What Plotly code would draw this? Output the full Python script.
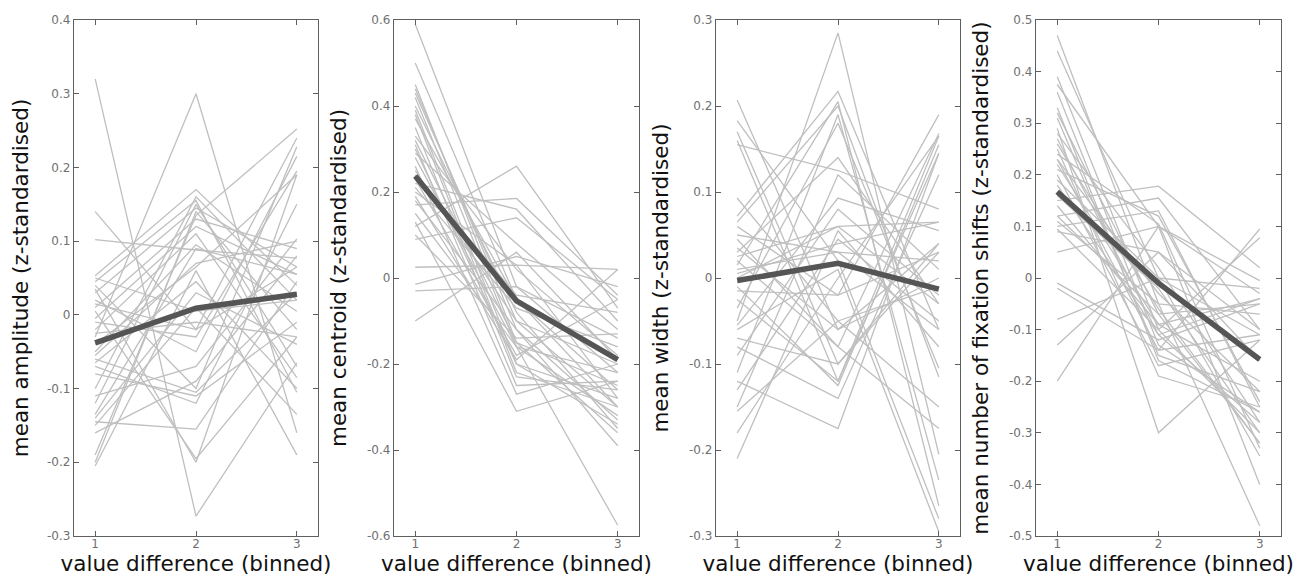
import plotly.graph_objects as go

x_bins = [1, 2, 3]
x_ticktext = ["1", "2", "3"]

# Panel 1: mean amplitude (per-subject values at bins 1,2,3)
amp_b1 = [0.32, -0.03, 0.14, 0.102, 0.053, 0.045, 0.04, 0.03, 0.02, 0.01, 0.005, -0.005, -0.01, -0.02,
          -0.04, -0.05, -0.06, -0.065, -0.07, -0.10, -0.11, -0.14, -0.145, -0.15, -0.16, -0.19, -0.20,
          -0.205, 0.035, -0.08, 0.015, -0.12, -0.025, 0.05, -0.135, -0.055]
amp_b2 = [-0.273, 0.30, -0.02, 0.088, 0.17, 0.155, -0.10, 0.145, -0.05, 0.13, -0.195, 0.12, -0.03, 0.11,
          0.065, 0.095, -0.105, 0.045, -0.12, 0.16, -0.07, 0.03, -0.155, 0.01, -0.09, 0.135, 0.14,
          0.06, -0.20, -0.11, -0.02, 0.15, -0.01, 0.005, 0.09, 0.07]
amp_b3 = [-0.065, -0.16, 0.24, 0.077, 0.04, -0.105, 0.228, 0.065, 0.215, 0.09, -0.03, 0.055, 0.195, -0.085,
          0.19, 0.005, 0.03, -0.10, 0.15, 0.02, 0.103, -0.04, 0.045, -0.135, 0.08, 0.252, -0.02,
          -0.19, 0.19, -0.01, 0.065, -0.07, -0.03, 0.02, 0.055, 0.10]
amp_mean = [-0.038, 0.009, 0.028]

# Panel 2: mean centroid
cen_b1 = [0.59, 0.50, 0.45, 0.44, 0.43, 0.40, 0.39, 0.38, 0.37, 0.33, 0.32, 0.31, 0.29, 0.28, 0.25,
          0.23, 0.22, 0.21, 0.20, 0.19, 0.18, 0.17, 0.13, 0.12, 0.10, 0.09, 0.025, -0.015, -0.03, -0.10,
          0.26, 0.35, 0.15, 0.42, 0.24, 0.30]
cen_b2 = [-0.02, -0.05, -0.15, -0.12, -0.10, -0.08, -0.20, -0.22, -0.05, 0.02, -0.15, -0.25, 0.08, -0.16,
          -0.10, -0.18, 0.16, -0.07, 0.03, -0.19, -0.12, 0.185, -0.31, 0.26, -0.14, 0.14, 0.03, 0.05,
          -0.02, 0.06, -0.27, -0.23, -0.16, -0.16, -0.04, -0.20]
cen_b3 = [-0.22, -0.30, -0.25, -0.33, -0.20, -0.35, -0.28, -0.30, -0.26, -0.18, -0.36, -0.24, -0.12, -0.22,
          -0.30, -0.05, -0.10, -0.16, -0.28, 0.02, -0.39, -0.04, -0.24, -0.07, -0.13, -0.05, 0.02, -0.02,
          -0.14, -0.19, -0.20, -0.26, -0.32, -0.575, -0.08, -0.34]
cen_mean = [0.237, -0.053, -0.19]

# Panel 3: mean width
wid_b1 = [-0.05, 0.207, 0.183, 0.17, 0.16, 0.155, 0.093, 0.072, 0.065, 0.06, 0.03, 0.025, 0.02, 0.015,
          0.01, -0.01, -0.035, -0.055, -0.06, -0.08, -0.09, -0.11, -0.12, -0.13, -0.15, -0.155, -0.18,
          -0.21, 0.045, 0.0, -0.015, 0.035, -0.07, 0.05, -0.025, 0.005]
wid_b2 = [0.285, -0.06, 0.02, -0.10, -0.12, 0.125, -0.05, 0.217, 0.20, -0.02, 0.14, 0.06, -0.08, 0.205,
          0.03, -0.125, 0.18, 0.093, 0.01, -0.14, 0.08, 0.19, -0.175, 0.045, 0.12, -0.05, 0.0,
          0.055, -0.08, 0.06, -0.02, -0.06, -0.10, 0.03, -0.12, 0.04]
wid_b3 = [-0.205, 0.04, -0.28, 0.03, 0.165, 0.08, -0.15, -0.06, -0.115, 0.19, -0.03, 0.065, 0.168, -0.265,
          0.02, 0.155, -0.105, 0.055, -0.295, 0.12, -0.02, -0.235, 0.145, -0.05, 0.01, -0.01, 0.165,
          -0.08, -0.175, -0.03, 0.03, 0.0, 0.04, -0.06, 0.145, 0.065]
wid_mean = [-0.003, 0.017, -0.013]

# Panel 4: mean number of fixation shifts
fix_b1 = [0.47, 0.44, 0.39, 0.375, 0.36, 0.32, 0.31, 0.28, 0.27, 0.25, 0.24, 0.23, 0.22, 0.21, 0.20,
          0.16, 0.15, 0.12, 0.11, 0.10, 0.095, 0.09, 0.05, -0.01, -0.02, -0.08, -0.13, -0.20, 0.29,
          0.18, 0.23, 0.14, 0.26, 0.33, 0.19, 0.12]
fix_b2 = [-0.05, 0.0, -0.10, 0.10, -0.13, -0.07, -0.15, 0.02, -0.11, -0.19, 0.105, -0.14, -0.09, 0.12,
          -0.17, -0.02, 0.178, 0.155, -0.05, 0.13, -0.10, 0.05, 0.10, -0.12, -0.14, 0.0, 0.05, 0.10,
          -0.30, -0.11, -0.03, -0.09, -0.06, -0.16, 0.0, -0.07]
fix_b3 = [-0.48, -0.345, -0.30, -0.40, -0.26, -0.32, -0.22, -0.28, -0.04, -0.25, -0.33, -0.11, -0.20, -0.24,
          -0.12, -0.30, 0.02, -0.10, -0.07, -0.25, 0.078, -0.16, -0.03, -0.05, 0.095, -0.02, -0.10,
          -0.005, -0.12, -0.28, -0.22, -0.04, -0.32, -0.26, -0.11, -0.05]
fix_mean = [0.167, -0.01, -0.158]

y_titles = ["mean amplitude (z-standardised)", "mean centroid (z-standardised)",
            "mean width (z-standardised)", "mean number of fixation shifts (z-standardised)"]
x_title = "value difference (binned)"

y_ranges = [[-0.3, 0.4], [-0.6, 0.6], [-0.3, 0.3], [-0.5, 0.5]]
y_tickvals = [
    [-0.3, -0.2, -0.1, 0.0, 0.1, 0.2, 0.3, 0.4],
    [-0.6, -0.4, -0.2, 0.0, 0.2, 0.4, 0.6],
    [-0.3, -0.2, -0.1, 0.0, 0.1, 0.2, 0.3],
    [-0.5, -0.4, -0.3, -0.2, -0.1, 0.0, 0.1, 0.2, 0.3, 0.4, 0.5],
]
y_ticktext = [
    ["-0.3", "-0.2", "-0.1", "0", "0.1", "0.2", "0.3", "0.4"],
    ["-0.6", "-0.4", "-0.2", "0", "0.2", "0.4", "0.6"],
    ["-0.3", "-0.2", "-0.1", "0", "0.1", "0.2", "0.3"],
    ["-0.5", "-0.4", "-0.3", "-0.2", "-0.1", "0", "0.1", "0.2", "0.3", "0.4", "0.5"],
]

panels = [
    (amp_b1, amp_b2, amp_b3, amp_mean),
    (cen_b1, cen_b2, cen_b3, cen_mean),
    (wid_b1, wid_b2, wid_b3, wid_mean),
    (fix_b1, fix_b2, fix_b3, fix_mean),
]

W, H = 1305, 578
x_domains_px = [(66, 310), (386, 631), (708, 952), (1028, 1273)]

FONT = "DejaVu Sans"
SUBJ_COLOR = "#bfbfbf"
MEAN_COLOR = "#555555"
AXIS_COLOR = "#5f5f5f"
TICK_FONT_COLOR = "#707070"

fig = go.Figure()

for i, (b1, b2, b3, mean) in enumerate(panels):
    xa = "x" if i == 0 else f"x{i+1}"
    ya = "y" if i == 0 else f"y{i+1}"
    for v1, v2, v3 in zip(b1, b2, b3):
        fig.add_trace(go.Scatter(x=x_bins, y=[v1, v2, v3], mode="lines",
                                 line=dict(color=SUBJ_COLOR, width=1.3),
                                 xaxis=xa, yaxis=ya, showlegend=False, hoverinfo="skip"))
    fig.add_trace(go.Scatter(x=x_bins, y=mean, mode="lines",
                             line=dict(color=MEAN_COLOR, width=5.5),
                             xaxis=xa, yaxis=ya, showlegend=False))

    d0, d1 = x_domains_px[i]
    common = dict(showgrid=False, zeroline=False, showline=True, linecolor=AXIS_COLOR, linewidth=1.3,
                  mirror="allticks", ticks="inside", ticklen=5, tickwidth=1.2, tickcolor=AXIS_COLOR,
                  tickfont=dict(family=FONT, size=12, color=TICK_FONT_COLOR))
    xkey = "xaxis" if i == 0 else f"xaxis{i+1}"
    ykey = "yaxis" if i == 0 else f"yaxis{i+1}"
    fig.update_layout(**{
        xkey: dict(domain=[d0 / W, d1 / W], range=[0.79, 3.21], anchor=ya,
                   tickvals=x_bins, ticktext=x_ticktext, ticklabelstandoff=-4,
                   title=dict(text=x_title, font=dict(family=FONT, size=21.5, color="#111111"), standoff=0),
                   **common),
        ykey: dict(domain=[0, 1], range=y_ranges[i], anchor=xa,
                   tickvals=y_tickvals[i], ticktext=y_ticktext[i],
                   title=dict(text=y_titles[i], font=dict(family=FONT, size=21.5, color="#111111"), standoff=14),
                   **common),
    })

fig.update_layout(width=W, height=H, margin=dict(l=0, r=0, t=12, b=50),
                  plot_bgcolor="white", paper_bgcolor="white")

fig.write_html("out.html")
